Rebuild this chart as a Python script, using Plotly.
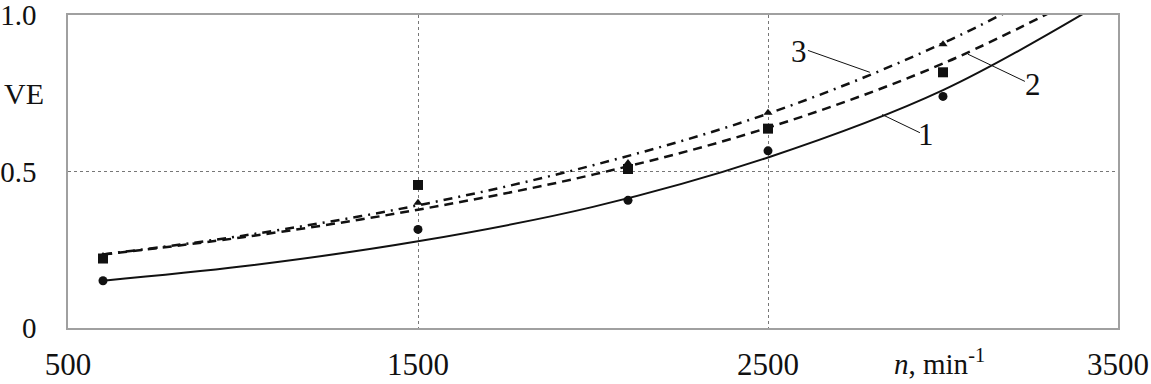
import plotly.graph_objects as go

# trend curves (rpm vs VE)
curve_n = [600, 1000, 1500, 2000, 2500, 3000, 3500]
curve1_ve = [0.151, 0.197, 0.277, 0.387, 0.545, 0.76, 1.07]
curve2_ve = [0.235, 0.29, 0.378, 0.49, 0.64, 0.845, 1.12]
curve3_ve = [0.235, 0.295, 0.392, 0.52, 0.685, 0.91, 1.2]

# measured points
points_n = [600, 1500, 2100, 2500, 3000]
points1_ve = [0.151, 0.315, 0.408, 0.566, 0.74]
points2_ve = [0.222, 0.457, 0.508, 0.637, 0.817]
points3_ve = [0.23, 0.40, 0.527, 0.688, 0.907]

x_ticks = [500, 1500, 2500, 3500]
y_ticks = [0, 0.5, 1.0]
y_tick_text = ["0", "0.5", "1.0"]

FONT = "Liberation Serif, Times New Roman, serif"
BLACK = "#111111"

fig = go.Figure()

fig.add_trace(go.Scatter(x=curve_n, y=curve1_ve, mode="lines", line_shape="spline",
                         line=dict(color=BLACK, width=2)))
fig.add_trace(go.Scatter(x=curve_n, y=curve2_ve, mode="lines", line_shape="spline",
                         line=dict(color=BLACK, width=2.5, dash="9px,6px")))
fig.add_trace(go.Scatter(x=curve_n, y=curve3_ve, mode="lines", line_shape="spline",
                         line=dict(color=BLACK, width=2.5, dash="9px,6px,2px,6px")))

fig.add_trace(go.Scatter(x=points_n, y=points1_ve, mode="markers",
                         marker=dict(symbol="circle", size=9, color=BLACK)))
fig.add_trace(go.Scatter(x=points_n, y=points2_ve, mode="markers",
                         marker=dict(symbol="square", size=10, color=BLACK)))
fig.add_trace(go.Scatter(x=points_n, y=points3_ve, mode="markers",
                         marker=dict(symbol="triangle-up", size=8, color=BLACK)))

# curve labels with leader lines
labels = [
    ("1", 2951, 0.617, 2826, 0.682, 2934, 0.624),
    ("2", 3257, 0.778, 3071, 0.875, 3234, 0.788),
    ("3", 2589, 0.884, 2614, 0.887, 2791, 0.817),
]
for text, tx, ty, x0, y0, x1, y1 in labels:
    fig.add_shape(type="line", x0=x0, y0=y0, x1=x1, y1=y1,
                  line=dict(color=BLACK, width=1))
    fig.add_annotation(x=tx, y=ty, text=text, showarrow=False,
                       font=dict(family=FONT, size=31, color=BLACK))

fig.add_annotation(x=-0.042, xref="paper", y=0.75, yref="y", text="VE",
                   xanchor="center", showarrow=False,
                   font=dict(family=FONT, size=30, color=BLACK))
fig.add_annotation(x=2991, y=-0.109, yref="paper", text="<i>n</i>, min<sup>-1</sup>",
                   showarrow=False, yanchor="middle",
                   font=dict(family=FONT, size=29, color=BLACK))

fig.update_layout(
    width=1151, height=384,
    margin=dict(l=68, r=33, t=15, b=56, autoexpand=False),
    plot_bgcolor="white", paper_bgcolor="white",
    showlegend=False,
    font=dict(family=FONT, size=30, color=BLACK),
)
fig.update_xaxes(range=[500, 3500], tickvals=x_ticks, showgrid=True,
                 gridcolor="#777777", griddash="dot", gridwidth=1,
                 showline=True, linecolor="#a0a0a0", linewidth=1.5, mirror=True,
                 zeroline=False, ticks="", ticklabelstandoff=8, automargin=False,
                 tickfont=dict(family=FONT, size=31, color=BLACK))
fig.update_yaxes(range=[0, 1.0001], tickvals=y_ticks, ticktext=y_tick_text, showgrid=True,
                 gridcolor="#777777", griddash="dot", gridwidth=1,
                 showline=True, linecolor="#a0a0a0", linewidth=1.5, mirror=True,
                 zeroline=False, ticks="", ticklabelstandoff=24, automargin=False,
                 ticklabeloverflow="allow",
                 tickfont=dict(family=FONT, size=29, color=BLACK))

# the page's default body margin would shift the fixed-size figure by 8px
fig.write_html("out.html", config={"displayModeBar": False},
               post_script="document.body.style.margin='0';")
